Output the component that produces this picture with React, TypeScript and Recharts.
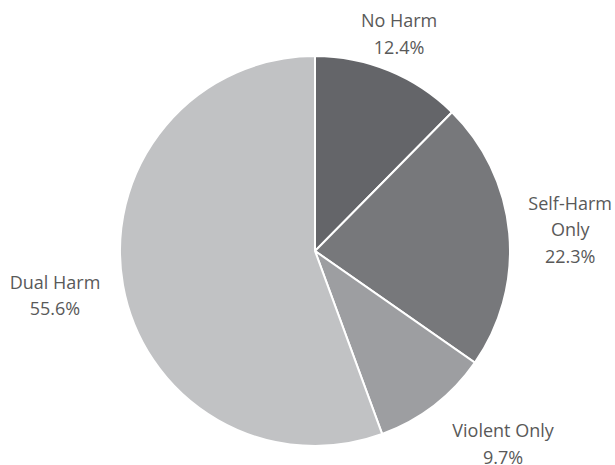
import React from 'react';
import { PieChart, Pie, Cell } from 'recharts';

const categories = ['No Harm', 'Self-Harm Only', 'Violent Only', 'Dual Harm'];
const shares = [12.4, 22.3, 9.7, 55.6];
const labelLines = [['No Harm'], ['Self-Harm', 'Only'], ['Violent Only'], ['Dual Harm']];

const colors = ['#646569', '#77787b', '#9d9ea1', '#c1c2c4'];
// label centre offset from the slice's outer edge point (best-fit placement)
const labelShift = [
  [10, -37],
  [61, -4],
  [69, 38],
  [-68, 10],
];

const RADIAN = Math.PI / 180;

const data = categories.map((name, i) => ({ name, value: shares[i] }));

const renderLabel = (props: any) => {
  const { cx, cy, midAngle, outerRadius, index, value } = props;
  const ex = cx + outerRadius * Math.cos(-midAngle * RADIAN);
  const ey = cy + outerRadius * Math.sin(-midAngle * RADIAN);
  const x = ex + labelShift[index][0];
  const y = ey + labelShift[index][1];
  const lines = [...labelLines[index], `${value.toFixed(1)}%`];
  const lineH = 26.5;
  const top = y - ((lines.length - 1) * lineH) / 2;
  return (
    <text
      x={x}
      y={top}
      textAnchor="middle"
      dominantBaseline="central"
      fill="#595959"
      fontSize={18}
      fontFamily="'Open Sans', sans-serif"
    >
      {lines.map((l, i) => (
        <tspan key={i} x={x} y={top + i * lineH}>
          {l}
        </tspan>
      ))}
    </text>
  );
};

const App: React.FC = () => {
  return (
    <div style={{ position: 'absolute', left: 0, top: 0, width: 615, height: 465, background: '#fff' }}>
      <PieChart width={615} height={465} margin={{ top: 0, right: 0, bottom: 0, left: 0 }}>
        <Pie
          data={data}
          dataKey="value"
          nameKey="name"
          cx={315}
          cy={251}
          outerRadius={195}
          startAngle={90}
          endAngle={-270}
          stroke="#ffffff"
          strokeWidth={2}
          label={renderLabel}
          labelLine={false}
          isAnimationActive={false}
        >
          {data.map((d, i) => (
            <Cell key={d.name} fill={colors[i]} />
          ))}
        </Pie>
      </PieChart>
    </div>
  );
};

export default App;
